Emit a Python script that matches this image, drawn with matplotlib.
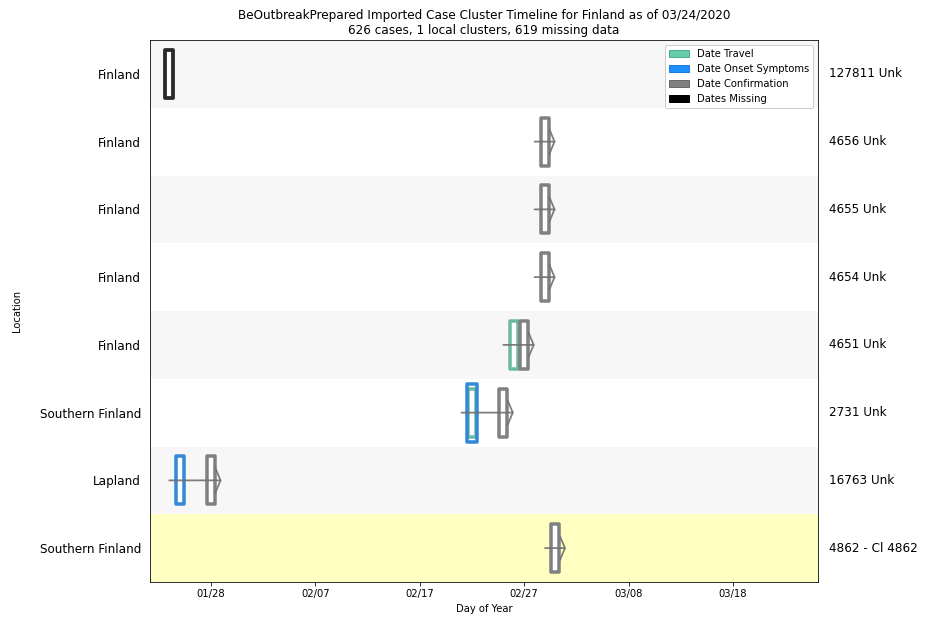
import matplotlib
matplotlib.use("Agg")
import matplotlib.pyplot as plt
import matplotlib.dates as mdates
from matplotlib.patches import Patch
from matplotlib.path import Path
from matplotlib.markers import MarkerStyle
import datetime as dt

# ---- data ----
locations = ["Finland", "Finland", "Finland", "Finland", "Finland",
             "Southern Finland", "Lapland", "Southern Finland"]
case_labels = ["127811 Unk", "4656 Unk", "4655 Unk", "4654 Unk", "4651 Unk",
               "2731 Unk", "16763 Unk", "4862 - Cl 4862"]
date_travel = [None, None, None, None, "2020-02-26", "2020-02-22", None, None]
date_onset = [None, None, None, None, None, "2020-02-22", "2020-01-25", None]
date_confirm = [None, "2020-02-29", "2020-02-29", "2020-02-29", "2020-02-27",
                "2020-02-25", "2020-01-28", "2020-03-01"]
date_missing = ["2020-01-24", None, None, None, None, None, None, None]
highlight = [False, False, False, False, False, False, False, True]
x_range = ("2020-01-22", "2020-03-26")
tick_start = "2020-01-28"
title = ("BeOutbreakPrepared Imported Case Cluster Timeline for Finland as of 03/24/2020\n"
         "626 cases, 1 local clusters, 619 missing data")

def d(s):
    return dt.datetime.strptime(s, "%Y-%m-%d") if s else None

fig = plt.figure(figsize=(929 / 72, 620 / 72), dpi=72)
ax = fig.add_axes([150 / 929, 1 - 582 / 620, 668 / 929, 542 / 620])

n = len(locations)
ys = [n - 1 - i for i in range(n)]

# background stripes
for i, y in enumerate(ys):
    if highlight[i]:
        c = "#ffffc2"
    elif i % 2 == 0:
        c = "#f7f7f7"
    else:
        c = "white"
    ax.axhspan(y - 0.5, y + 0.5, color=c, zorder=0, lw=0)

r = 7.5 / 47.5
box_path = Path([(-r, -1), (r, -1), (r, 1), (-r, 1), (-r, -1)],
                [Path.MOVETO, Path.LINETO, Path.LINETO, Path.LINETO, Path.CLOSEPOLY])
box = MarkerStyle(box_path, joinstyle="miter")

col_travel = "#6cba9e"
col_onset = "#3388d8"
col_confirm = "#808080"
col_missing = "#2a2a2a"

for i, y in enumerate(ys):
    evs = [d(s) for s in (date_travel[i], date_onset[i], date_confirm[i]) if s]
    if evs:
        start = min(evs) - dt.timedelta(days=1)
        end = max(evs) + dt.timedelta(days=1)
        ax.annotate("", xy=(mdates.date2num(end), y), xytext=(mdates.date2num(start), y),
                    arrowprops=dict(arrowstyle="->,head_length=0.5,head_width=1.2",
                                    color="#707070", lw=1.8, mutation_scale=10,
                                    shrinkA=0, shrinkB=0, alpha=0.9),
                    zorder=5)
    if date_travel[i]:
        ax.plot([d(date_travel[i])], [y], marker=box, ms=47.5, mew=3.5,
                mec=col_travel, mfc="white", ls="none", zorder=3)
    if date_onset[i]:
        same = date_travel[i] == date_onset[i]
        ax.plot([d(date_onset[i])], [y], marker=box, ms=58 if same else 47.5, mew=3.5,
                mec=col_onset, mfc="none" if same else "white", ls="none", zorder=4)
    if date_confirm[i]:
        ax.plot([d(date_confirm[i])], [y], marker=box, ms=47.5, mew=3.5,
                mec=col_confirm, mfc="white", ls="none", zorder=3)
    if date_missing[i]:
        ax.plot([d(date_missing[i])], [y], marker=box, ms=47.5, mew=3.8,
                mec=col_missing, mfc="white", ls="none", zorder=3)

ax.set_ylim(-0.5, n - 0.5)
ax.set_yticks(ys)
ax.set_yticklabels(locations, fontsize=12)
ax.tick_params(axis="y", length=0, pad=9)
for i, y in enumerate(ys):
    ax.text(1.016, y, case_labels[i], transform=ax.get_yaxis_transform(),
            va="center", ha="left", fontsize=12)

ax.set_xlim(mdates.date2num(d(x_range[0])) + 0.15, mdates.date2num(d(x_range[1])) + 0.15)
ticks = [d(tick_start) + dt.timedelta(days=10 * k) for k in range(6)]
ax.set_xticks(ticks)
ax.xaxis.set_major_formatter(mdates.DateFormatter("%m/%d"))
ax.tick_params(axis="x", labelsize=10, length=4)
ax.set_xlabel("Day of Year", fontsize=10)
ax.set_ylabel("Location", fontsize=10, labelpad=18)
ax.set_title(title, fontsize=12)

handles = [Patch(facecolor="#66cdaa", edgecolor="#4daf8a", label="Date Travel"),
           Patch(facecolor="#1e90ff", edgecolor="#1e7ad8", label="Date Onset Symptoms"),
           Patch(facecolor="gray", edgecolor="#6a6a6a", label="Date Confirmation"),
           Patch(facecolor="black", edgecolor="black", label="Dates Missing")]
ax.legend(handles=handles, loc="upper right", fontsize=10, framealpha=1)

fig.savefig("out.png", dpi=72)
